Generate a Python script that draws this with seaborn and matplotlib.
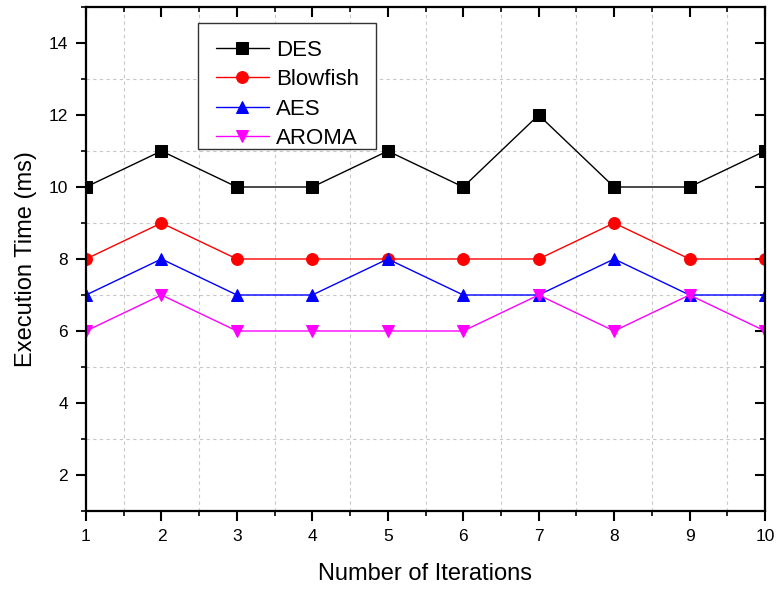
import numpy as np
import pandas as pd
import matplotlib
matplotlib.use("Agg")
import matplotlib.pyplot as plt
import seaborn as sns
from matplotlib.ticker import MultipleLocator
from matplotlib.patches import Rectangle

iterations = [1, 2, 3, 4, 5, 6, 7, 8, 9, 10]
des = [10, 11, 10, 10, 11, 10, 12, 10, 10, 11]
blowfish = [8, 9, 8, 8, 8, 8, 8, 9, 8, 8]
aes = [7, 8, 7, 7, 8, 7, 7, 8, 7, 7]
aroma = [6, 7, 6, 6, 6, 6, 7, 6, 7, 6]

series = ["DES", "Blowfish", "AES", "AROMA"]
values = [des, blowfish, aes, aroma]
colors = ["black", "red", "blue", "magenta"]
markers = ["s", "o", "^", "v"]

sns.set_style("white")
plt.rcParams["font.family"] = ["Liberation Sans", "DejaVu Sans"]
plt.rcParams.update({"text.color": "black", "axes.labelcolor": "black",
                     "xtick.color": "black", "ytick.color": "black"})

fig = plt.figure(figsize=(7.76, 5.9), dpi=100)
ax = fig.add_axes([86 / 776, 1 - 511 / 590, (765 - 86) / 776, (511 - 7) / 590])

for name, vals, c, m in zip(series, values, colors, markers):
    df = pd.DataFrame({"x": iterations, "y": vals})
    sns.lineplot(data=df, x="x", y="y", ax=ax, color=c, marker=m, markersize=8.5,
                 markeredgecolor=c, linewidth=1, label=name)

ax.set_xlim(1, 10)
ax.set_ylim(1, 15)
ax.xaxis.set_major_locator(MultipleLocator(1))
ax.xaxis.set_minor_locator(MultipleLocator(0.5))
ax.yaxis.set_major_locator(MultipleLocator(2))
ax.yaxis.set_minor_locator(MultipleLocator(1))
ax.set_yticks(range(2, 15, 2))

ax.grid(False)
ax.grid(which="minor", color="#c8c8c8", linestyle=(0, (3, 3)), linewidth=0.8)
ax.set_axisbelow(True)

for s in ax.spines.values():
    s.set_linewidth(1.6)
    s.set_color("black")

ax.tick_params(which="major", direction="out", length=7, width=1.5, labelsize=12.5,
               pad=6, bottom=True, left=True)
ax.tick_params(which="minor", direction="out", length=3.5, width=1.2,
               bottom=True, left=True)
ax.tick_params(which="both", top=True, right=True)
for t in ax.xaxis.get_major_ticks() + ax.xaxis.get_minor_ticks():
    t.tick2line.set_marker(matplotlib.lines.TICKDOWN)
for t in ax.yaxis.get_major_ticks() + ax.yaxis.get_minor_ticks():
    t.tick2line.set_marker(matplotlib.lines.TICKLEFT)

ax.set_xlabel("Number of Iterations", fontsize=17, labelpad=14)
ax.set_ylabel("Execution Time (ms)", fontsize=17, labelpad=8.5)

# legend box drawn separately (Origin-style uneven padding)
aw, ah = 679, 504
ax.add_patch(Rectangle((112 / aw, 1 - 142 / ah), 178 / aw, 126 / ah,
                       transform=ax.transAxes, facecolor="white",
                       edgecolor="#333333", linewidth=1.0, zorder=4))
leg = ax.legend(loc="upper left", bbox_to_anchor=(112 / aw, 1 - 15 / ah),
                borderaxespad=0, fontsize=16, frameon=False,
                handlelength=2.4, handletextpad=0.3,
                borderpad=0.8, labelspacing=0.38)
leg.set_zorder(5)

fig.savefig("out.png", dpi=100)
